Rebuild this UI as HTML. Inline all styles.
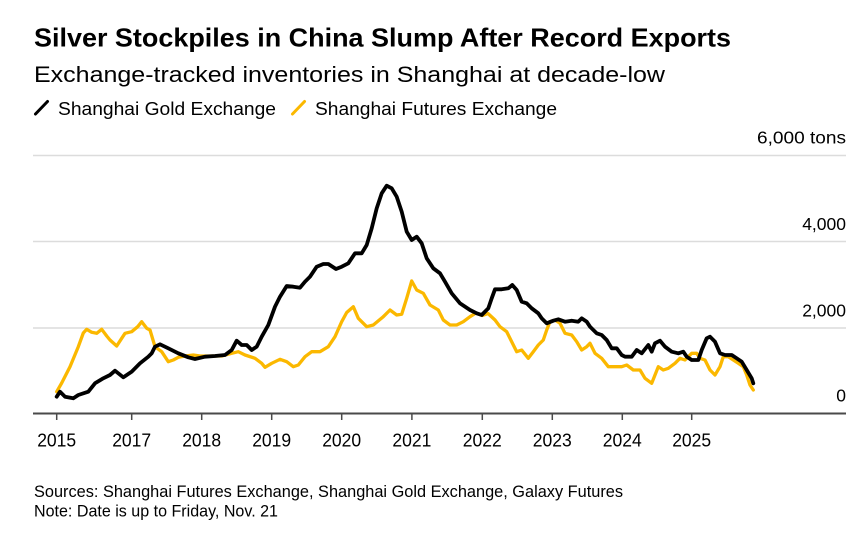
<!DOCTYPE html>
<html>
<head>
<meta charset="utf-8">
<style>
  html, body { margin: 0; padding: 0; background: #ffffff; }
  body { width: 866px; height: 537px; overflow: hidden; }
  svg { display: block; }
  text { font-family: "Liberation Sans", "DejaVu Sans", sans-serif; fill: #000; }
</style>
</head>
<body>
<svg width="866" height="537" viewBox="0 0 866 537" xmlns="http://www.w3.org/2000/svg">
  <rect x="0" y="0" width="866" height="537" fill="#ffffff"/>

  <!-- Title / subtitle -->
  <text x="34" y="46.5" font-size="26" font-weight="bold" textLength="697" lengthAdjust="spacingAndGlyphs">Silver Stockpiles in China Slump After Record Exports</text>
  <text x="34" y="82" font-size="22.5" textLength="631" lengthAdjust="spacingAndGlyphs">Exchange-tracked inventories in Shanghai at decade-low</text>

  <!-- Legend -->
  <line x1="35.5" y1="114" x2="47.5" y2="101.5" stroke="#000" stroke-width="3" stroke-linecap="round"/>
  <text x="58" y="115" font-size="18" textLength="218" lengthAdjust="spacingAndGlyphs">Shanghai Gold Exchange</text>
  <line x1="292.5" y1="114" x2="304.5" y2="101.5" stroke="#fbb800" stroke-width="3" stroke-linecap="round"/>
  <text x="315" y="115" font-size="18" textLength="242" lengthAdjust="spacingAndGlyphs">Shanghai Futures Exchange</text>

  <!-- Gridlines -->
  <g stroke="#dcdcdc" stroke-width="1.5">
    <line x1="33" y1="155.5" x2="846" y2="155.5"/>
    <line x1="33" y1="241.5" x2="846" y2="241.5"/>
    <line x1="33" y1="328" x2="846" y2="328"/>
  </g>

  <!-- Y labels -->
  <g font-size="17.5" text-anchor="end">
    <text x="846" y="143.5" textLength="89" lengthAdjust="spacingAndGlyphs">6,000 tons</text>
    <text x="846" y="230">4,000</text>
    <text x="846" y="316.5">2,000</text>
    <text x="846" y="401.5">0</text>
  </g>

  <!-- Axis -->
  <line x1="33" y1="413.5" x2="846" y2="413.5" stroke="#4a4a4a" stroke-width="2"/>
  <g stroke="#4a4a4a" stroke-width="1.5">
    <line x1="56.7" y1="414" x2="56.7" y2="420"/>
    <line x1="131.7" y1="414" x2="131.7" y2="420"/>
    <line x1="201.7" y1="414" x2="201.7" y2="420"/>
    <line x1="271.7" y1="414" x2="271.7" y2="420"/>
    <line x1="341.7" y1="414" x2="341.7" y2="420"/>
    <line x1="411.9" y1="414" x2="411.9" y2="420"/>
    <line x1="482.3" y1="414" x2="482.3" y2="420"/>
    <line x1="552.3" y1="414" x2="552.3" y2="420"/>
    <line x1="622.3" y1="414" x2="622.3" y2="420"/>
    <line x1="691.7" y1="414" x2="691.7" y2="420"/>
  </g>
  <g font-size="18" text-anchor="middle">
    <text x="56.7" y="446.5" textLength="39" lengthAdjust="spacingAndGlyphs">2015</text>
    <text x="131.7" y="446.5" textLength="39" lengthAdjust="spacingAndGlyphs">2017</text>
    <text x="201.7" y="446.5" textLength="39" lengthAdjust="spacingAndGlyphs">2018</text>
    <text x="271.7" y="446.5" textLength="39" lengthAdjust="spacingAndGlyphs">2019</text>
    <text x="341.7" y="446.5" textLength="39" lengthAdjust="spacingAndGlyphs">2020</text>
    <text x="411.9" y="446.5" textLength="39" lengthAdjust="spacingAndGlyphs">2021</text>
    <text x="482.3" y="446.5" textLength="39" lengthAdjust="spacingAndGlyphs">2022</text>
    <text x="552.3" y="446.5" textLength="39" lengthAdjust="spacingAndGlyphs">2023</text>
    <text x="622.3" y="446.5" textLength="39" lengthAdjust="spacingAndGlyphs">2024</text>
    <text x="691.7" y="446.5" textLength="39" lengthAdjust="spacingAndGlyphs">2025</text>
  </g>

  <!-- Shanghai Futures Exchange (yellow) -->
  <polyline fill="none" stroke="#fbb800" stroke-width="3.3" stroke-linejoin="round" stroke-linecap="round" points="
56.7,391.7 61.7,383 70,366.7 78.3,346.7 83.3,333 86.7,329.3 91.7,332.3 96.7,333.3 101.7,329.3 106.7,336 110,340 116.7,346 121.7,338.3 125,333.3 131.7,331.7 137.7,326.7 141.7,321.7 146.7,328.3 150,330 155,346.7 161.7,351.7 168.3,361.7 173.3,360 178.3,357.3 185,356 193.3,355 200,356 208.3,356 221.7,356 231.7,353.3 238.3,351.7 245,355 255,358.3 261.7,363.3 265,367.3 271.7,363.3 280,359.3 286.7,361.7 293.3,366.7 298.3,365 305,356.7 311.7,351.7 320,351.7 328.3,346.7 335,336.7 341.7,321.7 346.7,312.5 353.3,306.7 358.3,318.3 366.7,326.7 373.3,325 383.3,316.7 390,310 396.7,315 401.7,314.3 406.7,298.3 411.7,281 416.7,290 423.3,293.3 430,305 438.3,310 443.3,320 450,325 456.7,325 463.3,321.7 470,316.7 476,313 482,315.5 488,313.5 495,320 500,326.7 506.7,331.7 511.7,341.7 516.7,351.7 521.7,350 528.3,358.3 533.3,351.7 538.3,345 543.3,340 546.7,330 550,321.7 555,320 560,323.3 565,333.3 571.7,335 576.7,341.7 581.7,350 586.7,346.7 590,343.3 595,353.3 601.7,358.3 608.3,366.7 615,366.7 621.7,366.7 626.7,365 633.3,370 640,370 645,378.3 651.7,383.3 655,375 658.3,366.7 663.3,370 668.3,368.3 675,363.3 680,358.3 685,360 691.7,353.3 696.7,353.3 700,358.3 705,360 710,370 715,375 720,366.7 723.3,356.7 728.3,356.7 733.3,360 738.3,363.3 743.3,366.7 746.7,375 750,385 753.3,390"/>

  <!-- Shanghai Gold Exchange (black) -->
  <polyline fill="none" stroke="#000" stroke-width="3.8" stroke-linejoin="round" stroke-linecap="round" points="
56.7,396.7 60,391.7 65,396.7 73.3,398.3 78.3,395 88.3,391.7 95,383.3 103.3,378.3 110,375 115,370.7 123.3,377.3 131.7,371.7 140,363.3 148.3,356.7 151.7,353.3 155,346.7 160,344.3 168.3,348.3 178.3,353.3 188.3,357.3 195,359 205,356.7 215,356 225,355 231.7,350 236.7,340.7 241.7,345 246.7,345 251.7,350 256.7,346.7 261.7,336.7 268.3,325 275,306.7 280,296.7 286.7,286 293.3,286.7 300,287.7 305,281.7 310,276.7 316.7,266.7 323.3,264 328.3,264 336,269 341.7,266.7 348.3,263.3 355,253.3 361.7,253.3 366.7,245 371.7,228.3 376.7,208.3 381.7,193.3 386.7,185.7 391.7,188.3 396.7,196.7 401.7,211.7 406.7,231.7 411.7,240 416.7,236.7 421.7,243.3 426.7,258.3 433.3,268.3 440,273.3 445,281.7 451.7,293.3 460,303.3 470,310 476.7,313.3 481.7,315 488.3,308.3 491.7,298.3 495,289.3 501.7,289.3 508.3,288.3 512.3,285 516.7,290 521.7,301.7 526.7,303.3 531.7,308.3 538.3,313.3 541.7,318.3 546.7,323.3 553.3,320.7 558.3,319.3 565,321.7 571.7,320.7 578.3,321.7 581.7,318.3 586.7,321.7 590,326.7 596.7,333.3 601.7,335 606.7,340 611.7,348.3 616.7,348.3 621.7,355 625,356.7 631.7,356.7 636.7,350 641.7,353.3 648.3,345 651.7,351.7 655,343.3 660,340.7 665,346.7 671.7,351.7 678.3,353.3 683.3,351.7 686.7,356.7 691.7,360 698.3,360 701.7,350 706.7,338.3 710,336.7 715,341.7 720,353.3 725,355 731.7,355 736.7,358.3 741.7,361.7 746.7,370 751.7,378.3 753.3,383.3"/>

  <!-- Footer -->
  <text x="34" y="497" font-size="16.5" textLength="589" lengthAdjust="spacingAndGlyphs">Sources: Shanghai Futures Exchange, Shanghai Gold Exchange, Galaxy Futures</text>
  <text x="34" y="516.5" font-size="16.5" textLength="244" lengthAdjust="spacingAndGlyphs">Note: Date is up to Friday, Nov. 21</text>
</svg>
</body>
</html>
